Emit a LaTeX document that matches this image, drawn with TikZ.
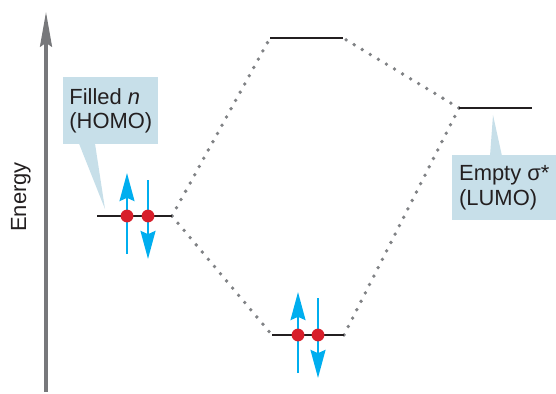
\documentclass[tikz,border=0pt]{standalone}
\usepackage{fontspec}
\setmainfont{Liberation Sans}
\usetikzlibrary{positioning, arrows.meta, calc}
\definecolor{ink}{HTML}{231f20}
\definecolor{axisgray}{HTML}{77787b}
\definecolor{dotgray}{HTML}{808285}
\definecolor{spinblue}{HTML}{00aeef}
\definecolor{dotred}{HTML}{d71f2b}
\definecolor{boxblue}{HTML}{c7dfe9}

\begin{document}
\begin{tikzpicture}[x=0.025cm, y=-0.025cm, font=\fontsize{15.6}{17.5}\selectfont, text=ink,
  lvl/.style={draw=ink, line width=1.9pt},
  corr/.style={dotgray, line width=2.7pt, line cap=round, dash pattern=on 0pt off 6.7pt},
  spinarr/.style={spinblue, line width=2pt, -{Stealth[length=7mm, width=3.7mm, inset=0.8mm]}},
  elec/.style={circle, fill=dotred, inner sep=0pt, minimum size=0.32cm},
  callbox/.style={fill=boxblue, inner sep=0pt, align=left},
  axisarr/.style={axisgray, line width=2.2pt, -{Stealth[length=8.7mm, width=3mm, inset=1mm]}}
]
  \useasboundingbox (0,0) rectangle (556,393);

  % energy axis
  \coordinate (axisBot) at (46,392);
  \coordinate (axisTop) at (46,12);
  \draw[axisarr] (axisBot) -- (axisTop);
  \node[rotate=90, anchor=base] (energy) at (26,197) {Energy};

  % levels
  \coordinate (nL) at (97,216);  \coordinate (nR) at (172,216);
  \coordinate (aL) at (270,38);  \coordinate (aR) at (343,38);
  \coordinate (bL) at (272,335); \coordinate (bR) at (344,335);
  \coordinate (sL) at (459,108); \coordinate (sR) at (532,108);

  \draw[corr] (nR) -- (aL);
  \draw[corr] (nR) -- (bL);
  \draw[corr] (sL) -- (aR);
  \draw[corr] (sL) -- (bR);

  \draw[lvl] (nL) -- (nR);
  \draw[lvl] (aL) -- (aR);
  \draw[lvl] (bL) -- (bR);
  \draw[lvl] (sL) -- (sR);

  % electrons
  \coordinate (n1) at (127,216); \coordinate (n2) at (148,216);
  \coordinate (b1) at (298,335); \coordinate (b2) at (318,335);
  \draw[spinarr] ($(n1)+(0,38)$) -- ($(n1)+(0,-43)$);
  \draw[spinarr] ($(n2)+(0,-36)$) -- ($(n2)+(0,43)$);
  \draw[spinarr] ($(b1)+(0,38)$) -- ($(b1)+(0,-43)$);
  \draw[spinarr] ($(b2)+(0,-37)$) -- ($(b2)+(0,43)$);
  \node[elec] (e1) at (n1) {};
  \node[elec] (e2) at (n2) {};
  \node[elec] (e3) at (b1) {};
  \node[elec] (e4) at (b2) {};

  % callouts
  \node[callbox, minimum width=2.375cm, minimum height=1.675cm, anchor=north west] (homo) at (63,77) {Filled \textit{n}\\(HOMO)};
  \coordinate (homoTip) at (105,209);
  \fill[boxblue] ($(homo.south west)+(16,-1)$) -- (homoTip) -- ($(homo.south west)+(32,-1)$) -- cycle;

  \node[callbox, minimum width=2.6cm, minimum height=1.625cm, anchor=north west] (lumo) at (452,155) {Empty σ*\\(LUMO)};
  \coordinate (lumoTip) at (493,115);
  \fill[boxblue] ($(lumo.north west)+(38,1)$) -- (lumoTip) -- ($(lumo.north west)+(50,1)$) -- cycle;
\end{tikzpicture}
\end{document}
